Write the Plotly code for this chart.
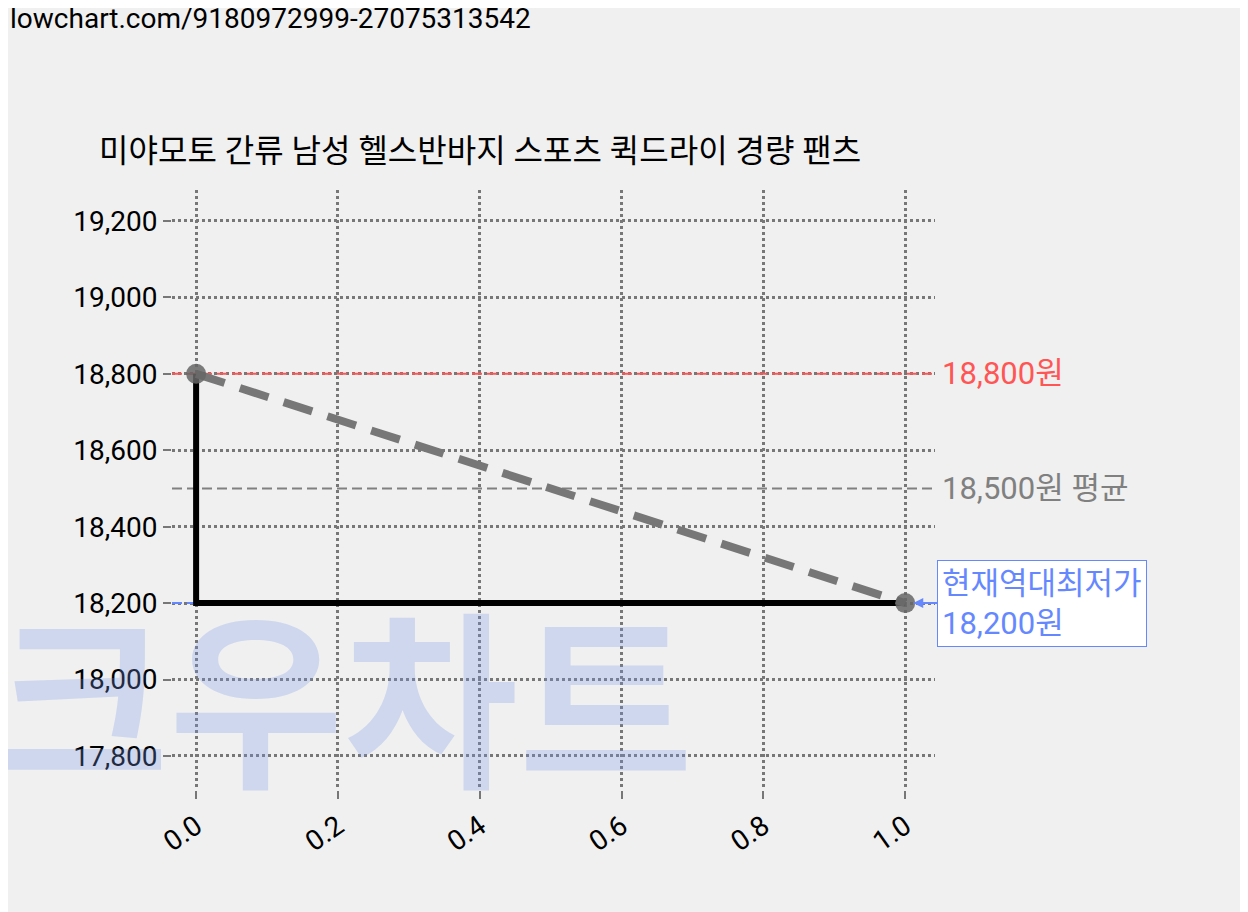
import plotly.graph_objects as go

title = "미야모토 간류 남성 헬스반바지 스포츠 퀵드라이 경량 팬츠"
step_x = [0, 0, 1]
step_y = [18800, 18200, 18200]
trend_x = [0, 1]
trend_y = [18800, 18200]
max_price = 18800
avg_price = 18500
min_price = 18200
yticks = [17800, 18000, 18200, 18400, 18600, 18800, 19000, 19200]
xticks = [0.0, 0.2, 0.4, 0.6, 0.8, 1.0]

F = "Roboto, Noto Sans CJK KR"
fig = go.Figure()
x0, x1 = -0.034, 1.042
fig.add_annotation(x=0, y=0, xref="paper", yref="paper", xshift=-180, yshift=-40, text="<b>크우차트</b>", showarrow=False,
                   font=dict(size=190, color="rgba(120,150,230,0.28)", family="Noto Sans CJK KR"), xanchor="left",
                   yanchor="bottom")
fig.add_trace(go.Scatter(x=[x0, x1], y=[max_price]*2, mode="lines", line=dict(color="#ff5555", dash="10px,5px", width=2)))
fig.add_trace(go.Scatter(x=[x0, x1], y=[avg_price]*2, mode="lines", line=dict(color="#808080", dash="10px,5px", width=2)))
fig.add_trace(go.Scatter(x=[x0, 1], y=[min_price]*2, mode="lines", line=dict(color="#6688ff", dash="10px,5px", width=2)))
fig.add_trace(go.Scatter(x=step_x, y=step_y, mode="lines", line=dict(color="black", width=6)))
fig.add_trace(go.Scatter(x=trend_x, y=trend_y, mode="lines+markers", line=dict(color="#777777", dash="30px,16px", width=8),
                         marker=dict(size=20, color="#666666", opacity=0.85)))

fig.add_annotation(x=1.0, y=max_price, xref="paper", text="18,800원", showarrow=False, xanchor="left", xshift=5,
                   font=dict(size=31, color="#ff5555", family=F))
fig.add_annotation(x=1.0, y=avg_price, xref="paper", text="18,500원 평균", showarrow=False, xanchor="left", xshift=5,
                   font=dict(size=31, color="#808080", family=F))
fig.add_annotation(x=1, y=min_price, ax=1.045, ay=min_price, axref="x", ayref="y", text="현재역대최저가<br>18,200원",
                   showarrow=True, arrowhead=2, arrowcolor="#6688ff", arrowwidth=2, xanchor="left", align="left",
                   font=dict(size=31, color="#6688ff", family=F), bgcolor="white", bordercolor="#6688ff",
                   borderwidth=1, borderpad=4, standoff=8)
fig.add_annotation(x=0, y=1, xref="paper", yref="paper", xshift=-164, yshift=190, text="lowchart.com/9180972999-27075313542",
                   showarrow=False, xanchor="left", yanchor="top", font=dict(size=28, color="black", family=F))

grid = dict(showgrid=True, gridcolor="#777777", griddash="dot", gridwidth=2.5, zeroline=False,
            ticks="outside", ticklen=8, tickcolor="#777777", tickwidth=2, showline=False)
fig.update_layout(
    width=1248, height=912, paper_bgcolor="#f0f0f0", plot_bgcolor="#f0f0f0", showlegend=False,
    margin=dict(l=164, r=321, t=182, b=130),
    title=dict(text=title, x=0.073, xanchor="left", y=0.843, yanchor="middle", font=dict(size=32, color="black", family=F)),
    xaxis=dict(range=[x0, x1], tickvals=xticks, ticktext=[f"{v:.1f}" for v in xticks], tickangle=-35,
               tickfont=dict(size=28, family=F, color="black"), **grid),
    yaxis=dict(range=[17711, 19281], tickvals=yticks, ticktext=[f"{v:,}" for v in yticks],
               tickfont=dict(size=28, family=F, color="black"), **grid),
)
fig.write_html("out.html")
